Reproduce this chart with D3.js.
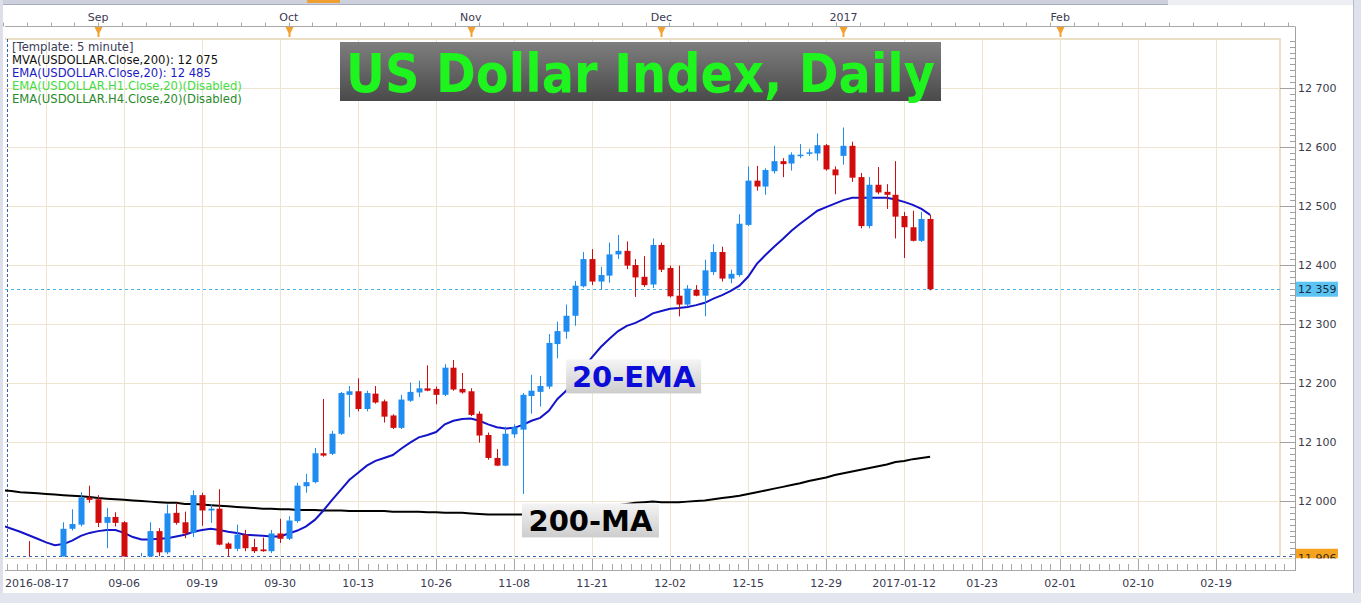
<!DOCTYPE html>
<html>
<head>
<meta charset="utf-8">
<script src="https://cdn.jsdelivr.net/npm/d3@7"></script>
<style>
body { margin: 0; background: #fff; overflow: hidden; }
text { font-family: "DejaVu Sans", Verdana, sans-serif; }
</style>
</head>
<body>
<div id="chart"></div>
<script>
// daily candles, bar 0 = 2016-08-17, bar 107 = 2017-01-17
var open = [11880,11870,11885,11880,11870,11880,11865,11890,11953,11960,
  12006,12003,11963,11973,11964,11895,11885,11900,11949,11913,
  11980,11964,11946,12010,11984,11987,11928,11919,11943,11922,
  11918,11915,11945,11936,11966,12025,12032,12081,12080,12114,
  12180,12186,12156,12182,12169,12145,12124,12170,12184,12191,
  12190,12180,12226,12190,12186,12148,12112,12073,12060,12113,
  12121,12178,12185,12194,12266,12287,12314,12364,12410,12372,
  12382,12418,12424,12400,12380,12367,12434,12395,12348,12333,
  12358,12348,12388,12422,12377,12383,12468,12543,12533,12559,
  12576,12572,12586,12589,12589,12603,12562,12585,12602,12549,
  12466,12536,12524,12519,12483,12464,12441,12478];
var high = [11900,11895,11900,11932,11898,11895,11900,11964,11986,12015,
  12026,12010,11988,11981,11966,11903,11912,11964,11954,11994,
  11997,11982,12018,12014,11994,12020,11930,11960,11951,11936,
  11938,11951,11970,11974,12031,12046,12090,12173,12119,12185,
  12195,12208,12187,12195,12172,12147,12180,12201,12204,12230,
  12194,12232,12239,12217,12191,12152,12116,12088,12126,12130,
  12183,12214,12212,12283,12304,12333,12373,12422,12427,12397,
  12438,12451,12440,12410,12415,12445,12438,12399,12399,12366,
  12366,12409,12435,12431,12392,12486,12567,12568,12564,12602,
  12581,12591,12605,12597,12623,12605,12567,12633,12609,12556,
  12549,12566,12537,12576,12490,12492,12490,12485];
var low = [11860,11850,11865,11860,11855,11860,11855,11885,11950,11957,
  11997,11956,11920,11957,11880,11870,11875,11895,11906,11910,
  11960,11937,11939,11958,11963,11925,11903,11915,11915,11912,
  11914,11912,11929,11934,11963,12014,12030,12075,12078,12112,
  12142,12152,12152,12165,12133,12122,12122,12168,12176,12186,
  12164,12178,12187,12182,12144,12099,12070,12059,12059,12107,
  12012,12148,12160,12190,12242,12275,12297,12362,12366,12358,
  12370,12410,12393,12346,12363,12361,12388,12345,12313,12330,
  12347,12313,12383,12372,12369,12380,12466,12526,12519,12555,
  12549,12560,12581,12585,12577,12560,12520,12570,12541,12462,
  12462,12520,12495,12445,12412,12440,12439,12357];
var close = [11870,11885,11875,11870,11880,11865,11890,11953,11961,12006,
  12002,11963,11973,11963,11895,11885,11900,11949,11913,11979,
  11963,11945,12010,11984,11987,11926,11919,11943,11920,11915,
  11915,11945,11936,11967,12026,12032,12081,12077,12114,12183,
  12186,12156,12183,12167,12143,12124,12172,12185,12191,12187,
  12180,12226,12189,12184,12146,12111,12073,12060,12114,12125,
  12180,12187,12195,12268,12288,12314,12365,12410,12372,12383,
  12418,12424,12399,12379,12366,12434,12392,12347,12333,12360,
  12348,12391,12422,12377,12385,12470,12543,12533,12561,12576,
  12571,12587,12587,12591,12603,12562,12552,12602,12548,12466,
  12536,12523,12519,12482,12464,12441,12478,12359];

// EMA(Close,20) and MVA(Close,200), one value per bar
var ema20 = [11958,11953,11948,11942,11936,11930,11925,11927,11933,11941,
  11946,11949,11951,11951,11946,11939,11935,11935,11936,11937,
  11940,11943,11948,11951,11953,11951,11948,11946,11943,11942,
  11941,11940,11940,11945,11950,11957,11968,11984,12002,12019,
  12036,12048,12060,12068,12073,12078,12089,12099,12108,12112,
  12117,12130,12136,12139,12140,12136,12130,12125,12123,12124,
  12129,12136,12141,12153,12173,12187,12205,12226,12244,12261,
  12275,12288,12297,12302,12309,12318,12322,12326,12327,12329,
  12332,12336,12343,12349,12356,12365,12380,12402,12417,12431,
  12444,12458,12470,12481,12492,12498,12504,12510,12514,12514,
  12514,12514,12514,12511,12507,12502,12495,12485];
var ma200 = [12018,12017,12015,12014,12013,12012,12011,12010,12009,12008,
  12007,12005,12004,12003,12002,12001,12000,11999,11998,11997,
  11997,11995,11995,11994,11993,11992,11991,11990,11989,11988,
  11987,11987,11986,11986,11985,11985,11985,11984,11984,11984,
  11983,11983,11983,11983,11983,11982,11982,11982,11982,11981,
  11981,11980,11980,11980,11979,11978,11977,11977,11977,11977,
  11977,11978,11979,11981,11982,11984,11985,11987,11988,11989,
  11991,11993,11995,11997,11998,11999,11998,11998,11998,11999,
  12000,12001,12003,12005,12007,12009,12012,12015,12018,12021,
  12024,12027,12030,12034,12037,12040,12044,12047,12050,12053,
  12056,12059,12062,12066,12068,12071,12073,12075];

var bottomTickIdx = [0, 14, 23, 32, 41, 50, 59, 68, 77, 86, 95, 104, 113, 122, 131, 140];
var bottomTickLabels = ["2016-08-17","09-06","09-19","09-30","10-13","10-26","11-08","11-21",
  "12-02","12-15","12-29","2017-01-12","01-23","02-01","02-10","02-19"];
var monthIdx = [11, 33, 54, 76, 97, 122];
var monthLabels = ["Sep", "Oct", "Nov", "Dec", "2017", "Feb"];
var priceTicks = [12000, 12100, 12200, 12300, 12400, 12500, 12600, 12700];
var lastPrice = 12359, lowPrice = 11906;

var legendLines = [
  {t: "[Template: 5 minute]", c: "#3b3b5a"},
  {t: "MVA(USDOLLAR.Close,200): 12 075", c: "#111111"},
  {t: "EMA(USDOLLAR.Close,20): 12 485", c: "#1c1cc4"},
  {t: "EMA(USDOLLAR.H1.Close,20)(Disabled)", c: "#44dd44"},
  {t: "EMA(USDOLLAR.H4.Close,20)(Disabled)", c: "#2a8a2a"}
];

var W = 1361, H = 603;
var plot = {left: 5, right: 1280, top: 39, bottom: 556.5};
var axisX = 1295;

var x = d3.scaleLinear().domain([0, 147]).range([2.8, 2.8 + 147 * 78 / 9]);
var y = d3.scaleLinear().domain([lowPrice, 12700]).range([plot.bottom, 88]);
var fmt = function(v) { return d3.format(",")(v).replace(",", " "); };

var svg = d3.select("#chart").append("svg")
  .attr("width", W).attr("height", H);

var defs = svg.append("defs");
defs.append("clipPath").attr("id", "plotclip").append("rect")
  .attr("x", plot.left).attr("y", plot.top)
  .attr("width", plot.right - plot.left).attr("height", plot.bottom - plot.top);
var g1 = defs.append("linearGradient").attr("id", "titlegrad")
  .attr("x1", 0).attr("y1", 0).attr("x2", 0).attr("y2", 1);
g1.append("stop").attr("offset", "0%").attr("stop-color", "#7e7e7e");
g1.append("stop").attr("offset", "100%").attr("stop-color", "#4a4a4a");
var g2 = defs.append("linearGradient").attr("id", "labelgrad")
  .attr("x1", 0).attr("y1", 0).attr("x2", 0).attr("y2", 1);
g2.append("stop").attr("offset", "0%").attr("stop-color", "#f4f4f4");
g2.append("stop").attr("offset", "100%").attr("stop-color", "#cdcdcd");

// frame
svg.append("rect").attr("width", W).attr("height", H).attr("fill", "#ffffff");
svg.append("rect").attr("x", 0).attr("y", 0).attr("width", W).attr("height", 5).attr("fill", "#eceef4");
svg.append("rect").attr("x", 0).attr("y", 0).attr("width", 1168).attr("height", 4).attr("fill", "#cdd1dd");
svg.append("line").attr("x1", 0).attr("x2", 1168).attr("y1", 4.5).attr("y2", 4.5).attr("stroke", "#a9aebd");
svg.append("rect").attr("x", 307).attr("y", 0).attr("width", 33).attr("height", 3).attr("fill", "#f0a030");
svg.append("rect").attr("x", 0).attr("y", 0).attr("width", 3).attr("height", H).attr("fill", "#dde0ea");
svg.append("rect").attr("x", 1353).attr("y", 0).attr("width", 8).attr("height", H).attr("fill", "#dfe2ec");
svg.append("line").attr("x1", 1353.5).attr("x2", 1353.5).attr("y1", 0).attr("y2", H).attr("stroke", "#b9bdcb");
svg.append("rect").attr("x", 0).attr("y", 593).attr("width", W).attr("height", 10).attr("fill", "#e3e6ef");

// grid
var gridIdx = d3.range(5, 148, 9);
svg.append("g").selectAll("line").data(gridIdx).enter().append("line")
  .attr("x1", function(d) { return Math.round(x(d)) + 0.5; })
  .attr("x2", function(d) { return Math.round(x(d)) + 0.5; })
  .attr("y1", plot.top).attr("y2", plot.bottom)
  .attr("stroke", "#eee4d0");
svg.append("g").selectAll("line").data(priceTicks).enter().append("line")
  .attr("x1", plot.left).attr("x2", plot.right)
  .attr("y1", function(d) { return Math.round(y(d)) + 0.5; })
  .attr("y2", function(d) { return Math.round(y(d)) + 0.5; })
  .attr("stroke", "#eee4d0");

// plot border
svg.append("line").attr("x1", plot.left).attr("x2", plot.right + 1)
  .attr("y1", plot.top).attr("y2", plot.top).attr("stroke", "#ebe0c6").attr("stroke-width", 2);
svg.append("line").attr("x1", plot.right).attr("x2", plot.right)
  .attr("y1", plot.top).attr("y2", plot.bottom).attr("stroke", "#ebe0c6").attr("stroke-width", 2);
svg.append("line").attr("x1", 7.5).attr("x2", 7.5).attr("y1", plot.top).attr("y2", plot.bottom)
  .attr("stroke", "#3a5fb0").attr("stroke-dasharray", "3,2");

// dashed price lines
svg.append("line").attr("x1", plot.left).attr("x2", plot.right)
  .attr("y1", Math.round(y(lastPrice)) + 0.5).attr("y2", Math.round(y(lastPrice)) + 0.5)
  .attr("stroke", "#3fb4ea").attr("stroke-dasharray", "3,3");
svg.append("line").attr("x1", plot.left).attr("x2", axisX)
  .attr("y1", Math.round(y(lowPrice)) - 0.5).attr("y2", Math.round(y(lowPrice)) - 0.5)
  .attr("stroke", "#3a5fb0").attr("stroke-dasharray", "3,3");

var chart = svg.append("g").attr("clip-path", "url(#plotclip)");

// moving averages
var lineOf = function(arr) {
  return d3.line().x(function(d, i) { return x(i); }).y(function(d) { return y(d); })(arr);
};
chart.append("path").attr("d", lineOf(ma200)).attr("fill", "none")
  .attr("stroke", "#000").attr("stroke-width", 2);
chart.append("path").attr("d", lineOf(ema20)).attr("fill", "none")
  .attr("stroke", "#1414c8").attr("stroke-width", 2);

// candles
var bars = d3.range(open.length);
var col = function(i) { return close[i] >= open[i] ? "#1e8cf0" : "#d00c0c"; };
chart.append("g").selectAll("line").data(bars).enter().append("line")
  .attr("x1", function(i) { return Math.round(x(i)) + 0.5; })
  .attr("x2", function(i) { return Math.round(x(i)) + 0.5; })
  .attr("y1", function(i) { return y(high[i]); })
  .attr("y2", function(i) { return y(low[i]); })
  .attr("stroke", col);
chart.append("g").selectAll("rect").data(bars).enter().append("rect")
  .attr("x", function(i) { return Math.round(x(i)) - 2.5; })
  .attr("width", 6)
  .attr("y", function(i) { return y(Math.max(open[i], close[i])); })
  .attr("height", function(i) { return Math.max(1.5, Math.abs(y(open[i]) - y(close[i]))); })
  .attr("fill", col);

// top axis
var topAxis = svg.append("g");
topAxis.append("line").attr("x1", plot.left).attr("x2", axisX).attr("y1", 26.5).attr("y2", 26.5).attr("stroke", "#a8a8a8");
var topTicks = d3.range(x(monthIdx[0]) - 4 * 23.8, axisX, 23.8);
topAxis.selectAll(".tt").data(topTicks).enter().append("line")
  .attr("x1", function(d) { return Math.round(d) + 0.5; })
  .attr("x2", function(d) { return Math.round(d) + 0.5; })
  .attr("y1", 22.5).attr("y2", 26.5).attr("stroke", "#a8a8a8");
topAxis.selectAll(".mk").data(monthIdx).enter().append("path")
  .attr("d", function(d) {
    var cx = Math.round(x(d)) + 0.5;
    return "M" + (cx - 4) + ",27L" + (cx + 4) + ",27L" + (cx + 1) + ",33L" + (cx + 1) + ",37L" + (cx - 1) + ",37L" + (cx - 1) + ",33Z";
  })
  .attr("fill", "#f3a02e");
topAxis.selectAll(".ml").data(monthIdx).enter().append("text")
  .attr("x", function(d) { return x(d); }).attr("y", 21)
  .attr("text-anchor", "middle").attr("font-size", 11).attr("fill", "#3a3a50")
  .text(function(d, i) { return monthLabels[i]; });

// right price axis
var ra = svg.append("g");
ra.append("line").attr("x1", axisX + 0.5).attr("x2", axisX + 0.5).attr("y1", 26.5).attr("y2", 570)
  .attr("stroke", "#a0a0a0");
var minor = d3.range(11910, 12790, 10).filter(function(v) { return v % 100 !== 0 && y(v) >= 40; });
ra.selectAll(".mn").data(minor).enter().append("line")
  .attr("x1", axisX - 5).attr("x2", axisX)
  .attr("y1", function(d) { return Math.round(y(d)) + 0.5; })
  .attr("y2", function(d) { return Math.round(y(d)) + 0.5; })
  .attr("stroke", "#a0a0a0");
ra.selectAll(".mj").data(priceTicks).enter().append("line")
  .attr("x1", plot.right).attr("x2", axisX)
  .attr("y1", function(d) { return Math.round(y(d)) + 0.5; })
  .attr("y2", function(d) { return Math.round(y(d)) + 0.5; })
  .attr("stroke", "#a0a0a0");
ra.selectAll(".lb").data(priceTicks).enter().append("text")
  .attr("x", axisX + 3).attr("y", function(d) { return y(d) + 4; })
  .attr("font-size", 11).attr("fill", "#3a3a4a")
  .text(fmt);

// last price and low price tags
ra.append("rect").attr("x", axisX + 1).attr("y", y(lastPrice) - 7.5).attr("width", 42).attr("height", 15)
  .attr("fill", "#5cc4f2");
ra.append("text").attr("x", axisX + 3).attr("y", y(lastPrice) + 4)
  .attr("font-size", 11).attr("fill", "#1a2a40").text(fmt(lastPrice));
defs.append("clipPath").attr("id", "lowclip").append("rect")
  .attr("x", axisX + 1).attr("y", y(lowPrice) - 8).attr("width", 42).attr("height", 10);
var lowTag = ra.append("g").attr("clip-path", "url(#lowclip)");
lowTag.append("rect").attr("x", axisX + 1).attr("y", y(lowPrice) - 8).attr("width", 42).attr("height", 10)
  .attr("fill", "#f5a21e");
lowTag.append("text").attr("x", axisX + 3).attr("y", y(lowPrice) + 5.5)
  .attr("font-size", 11).attr("fill", "#3a2a10").text(fmt(lowPrice));

// bottom date axis
var ba = svg.append("g");
ba.append("line").attr("x1", plot.left).attr("x2", axisX).attr("y1", 558.5).attr("y2", 558.5).attr("stroke", "#ece4d2");
ba.append("line").attr("x1", plot.left).attr("x2", axisX + 1).attr("y1", 570.5).attr("y2", 570.5).attr("stroke", "#a8a8a8");
var subTicks = d3.range(5 - 9 * 4 / 8, 149, 9 / 8).filter(function(d) { return x(d) > plot.left && x(d) < axisX; });
ba.selectAll(".bt").data(subTicks).enter().append("line")
  .attr("x1", function(d) { return Math.round(x(d)) + 0.5; })
  .attr("x2", function(d) { return Math.round(x(d)) + 0.5; })
  .attr("y1", function(d) { return Math.abs((d - 5) / 9 - Math.round((d - 5) / 9)) < 0.01 ? 559 : 564; })
  .attr("y2", 570).attr("stroke", "#a8a8a8");
ba.selectAll(".bl").data(bottomTickIdx).enter().append("text")
  .attr("x", function(d, i) { return i === 0 ? plot.left : x(d); })
  .attr("y", 587)
  .attr("text-anchor", function(d, i) { return i === 0 ? "start" : "middle"; })
  .attr("font-size", 11).attr("fill", "#3a3a50")
  .text(function(d, i) { return bottomTickLabels[i]; });

// legend
svg.append("g").selectAll("text").data(legendLines).enter().append("text")
  .attr("x", 12).attr("y", function(d, i) { return 51 + i * 13; })
  .attr("font-size", 11.6).attr("fill", function(d) { return d.c; })
  .text(function(d) { return d.t; });

// title
svg.append("rect").attr("x", 340).attr("y", 42).attr("width", 601).attr("height", 59)
  .attr("fill", "url(#titlegrad)");
svg.append("text").attr("x", 346).attr("y", 92)
  .attr("font-size", 53).attr("font-weight", "bold").attr("fill", "#1ef51e")
  .attr("textLength", 589).attr("lengthAdjust", "spacingAndGlyphs")
  .text("US Dollar Index, Daily");

// line labels
function tag(i, v, w, txt, color) {
  var bx = x(i), by = y(v);
  svg.append("rect").attr("x", bx).attr("y", by).attr("width", w).attr("height", 34)
    .attr("fill", "url(#labelgrad)");
  svg.append("text").attr("x", bx + w / 2).attr("y", by + 28)
    .attr("text-anchor", "middle").attr("font-size", 29).attr("font-weight", "bold")
    .attr("fill", color).text(txt);
}
tag(65, 12240, 135, "20-EMA", "#0c0cd8");
tag(59.9, 11996, 137, "200-MA", "#000000");
</script>
</body>
</html>
